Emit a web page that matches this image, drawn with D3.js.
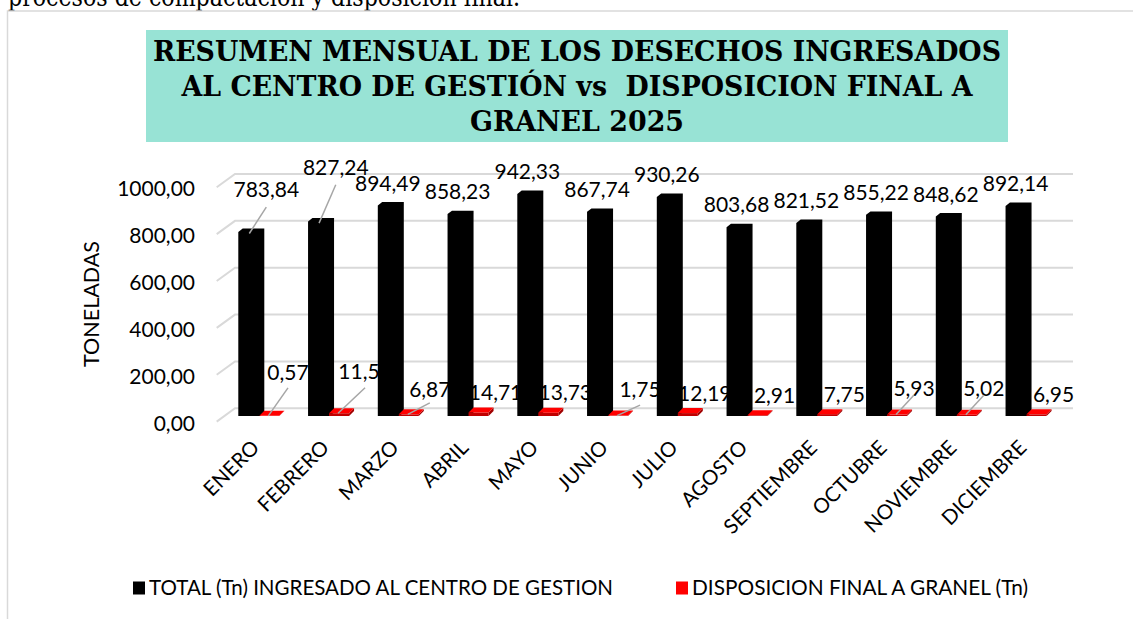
<!DOCTYPE html>
<html>
<head>
<meta charset="utf-8">
<script src="https://cdn.jsdelivr.net/npm/d3@7"></script>
<style>
  body { margin: 0; background: #fff; }
  svg { display: block; }
  text { font-family: Lato, "Open Sans", sans-serif; fill: #000; }
</style>
</head>
<body>
<div id="chart"></div>
<script>
// data
const months = ["ENERO", "FEBRERO", "MARZO", "ABRIL", "MAYO", "JUNIO", "JULIO",
  "AGOSTO", "SEPTIEMBRE", "OCTUBRE", "NOVIEMBRE", "DICIEMBRE"];
const totalIngresado = [783.84, 827.24, 894.49, 858.23, 942.33, 867.74, 930.26,
  803.68, 821.52, 855.22, 848.62, 892.14];
const disposicionGranel = [0.57, 11.5, 6.87, 14.71, 13.73, 1.75, 12.19,
  2.91, 7.75, 5.93, 5.02, 6.95];
const yTicks = [0, 200, 400, 600, 800, 1000];
const seriesNames = ["TOTAL (Tn) INGRESADO AL CENTRO DE GESTION", "DISPOSICION FINAL A GRANEL (Tn)"];
const titleLines = ["RESUMEN MENSUAL DE LOS DESECHOS INGRESADOS",
  "AL CENTRO DE GESTIÓN vs  DISPOSICION FINAL A", "GRANEL 2025"];
const yTitle = "TONELADAS";
const pageText = "procesos de compactación y disposición final.";

// labels that were dragged by hand in the original: [dx, dy, leader start dy]
const totalNudge = { 0: [18, -20, 17.7], 1: [17.7, -31.8, 17.5] };
const granelNudge = { 0: [1.7, -23, 15], 1: [9, -22, 16.5], 2: [4, -5, 13.5],
  5: [5, -6, 15.5], 9: [0, -6, 6.5], 10: [0, -6, 6.5] };

const W = 1133, H = 619;
const BASE = 416;                 // floor of the bars
const GRID = "#d9d9d9", LEADER = "#a6a6a6";

const locale = d3.formatLocale({ decimal: ",", thousands: ".", grouping: [3], currency: ["", ""] });
const fmt = locale.format(".2f");

const svg = d3.select("#chart").append("svg")
  .attr("width", W).attr("height", H);

// page frame + cut-off text above it
svg.append("text")
  .attr("x", 8).attr("y", 6)
  .attr("textLength", 512).attr("lengthAdjust", "spacingAndGlyphs")
  .style("font-family", "'DejaVu Serif', serif").style("font-size", "26px")
  .text(pageText);
svg.append("path")
  .attr("d", `M${W},11H7.5V${H}`)
  .attr("fill", "none").attr("stroke", GRID).attr("stroke-width", 1.5);

// title box
svg.append("rect")
  .attr("x", 146).attr("y", 30).attr("width", 862).attr("height", 112)
  .attr("fill", "#98e3d5");
const titleWidths = [848, 791, 214];
svg.append("g").selectAll("text")
  .data(titleLines)
  .join("text")
  .attr("x", 577)
  .attr("y", (d, i) => 61 + i * 35)
  .attr("text-anchor", "middle")
  .attr("textLength", (d, i) => titleWidths[i])
  .attr("lengthAdjust", "spacingAndGlyphs")
  .style("font-family", "'DejaVu Serif Condensed', 'DejaVu Serif', serif")
  .style("font-weight", "bold")
  .style("font-size", "28px")
  .style("white-space", "pre")
  .text(d => d);

// scales
const x = d3.scaleBand().domain(months).range([236.5, 1073.5]);
const y = d3.scaleLinear().domain([0, 1000]).range([BASE, 176.8]);       // bar plane
const yBack = d3.scaleLinear().domain([0, 1000]).range([408.3, 174]);    // back wall
const yLabel = d3.scaleLinear().domain([0, 1000]).range([423.3, 189]);   // tick labels

// gridlines on the back wall with the floor/side diagonal
svg.append("g").selectAll("path")
  .data(yTicks)
  .join("path")
  .attr("d", t => `M216.7,${yBack(t) + 13.3}L235,${yBack(t)}H1073`)
  .attr("fill", "none").attr("stroke", GRID).attr("stroke-width", 2);

// y axis labels
const yAxis = svg.append("g")
  .attr("transform", "translate(195,0)")
  .call(d3.axisLeft(yLabel).tickValues(yTicks).tickFormat(fmt).tickSize(0).tickPadding(0));
yAxis.select(".domain").remove();
yAxis.selectAll("text").style("font-family", "Lato, sans-serif").style("font-size", "21px").attr("fill", "#000");

svg.append("text")
  .attr("transform", "translate(99,304) rotate(-90)")
  .attr("text-anchor", "middle")
  .style("font-size", "21.5px")
  .text(yTitle);

// x labels
svg.append("g").selectAll("text")
  .data(months)
  .join("text")
  .attr("transform", d => `translate(${x(d) + 24},449) rotate(-45)`)
  .attr("text-anchor", "end")
  .style("font-size", "20.5px")
  .text(d => d);

const bx = i => x(months[i]) + 1.8;      // black front-left
const rx = i => x(months[i]) + 22.8;     // red front-left

// red labels (sit under the black columns, as in the original)
const granelPos = disposicionGranel.map((v, i) => {
  const n = granelNudge[i] || [0, 0, 0];
  return { v, i, cx: rx(i) + 27 + n[0], cy: y(v) - 20 + n[1], lead: granelNudge[i] ? n[2] : null };
});
svg.append("g").selectAll("text")
  .data(granelPos)
  .join("text")
  .attr("x", d => d.cx).attr("y", d => d.cy).attr("dy", "0.36em")
  .attr("text-anchor", "middle")
  .style("font-size", "21px")
  .text(d => fmt(d.v));

// black columns (front + top + side as one silhouette)
svg.append("g").selectAll("path")
  .data(totalIngresado)
  .join("path")
  .attr("d", (v, i) => {
    const x0 = bx(i), t = y(v);
    return `M${x0},${BASE}V${t + 3.4}L${x0 + 4.4},${t}H${x0 + 26}V${BASE - 3.4}L${x0 + 21.6},${BASE}Z`;
  })
  .attr("fill", "#000");

// red slabs
const red = svg.append("g").selectAll("g")
  .data(disposicionGranel)
  .join("g");
red.append("path")
  .attr("d", (v, i) => { const x0 = rx(i), t = y(v);
    return `M${x0 + 20},${t}L${x0 + 25},${t - 5}V${BASE - 5}L${x0 + 20},${BASE}Z`; })
  .attr("fill", "#a00000");
red.append("rect")
  .attr("x", (v, i) => rx(i)).attr("y", v => y(v))
  .attr("width", 20).attr("height", v => BASE - y(v))
  .attr("fill", "#c00000");
red.append("path")
  .attr("d", (v, i) => { const x0 = rx(i), t = y(v);
    return `M${x0},${t}H${x0 + 20}L${x0 + 25},${t - 5}H${x0 + 5}Z`; })
  .attr("fill", "#ff0000");

// red leader lines
svg.append("g").selectAll("line")
  .data(granelPos.filter(d => d.lead !== null))
  .join("line")
  .attr("x1", d => d.cx).attr("y1", d => d.cy + d.lead)
  .attr("x2", d => rx(d.i) + 9).attr("y2", d => y(d.v))
  .attr("stroke", LEADER).attr("stroke-width", 1.5);

// black labels + leaders
const totalPos = totalIngresado.map((v, i) => {
  const n = totalNudge[i] || [0, 0, 0];
  return { v, i, cx: bx(i) + 10 + n[0], cy: y(v) - 19 + n[1], lead: totalNudge[i] ? n[2] : null };
});
svg.append("g").selectAll("line")
  .data(totalPos.filter(d => d.lead !== null))
  .join("line")
  .attr("x1", d => d.cx).attr("y1", d => d.cy + d.lead)
  .attr("x2", d => bx(d.i) + 11).attr("y2", d => y(d.v) + 5)
  .attr("stroke", LEADER).attr("stroke-width", 1.5);
svg.append("g").selectAll("text")
  .data(totalPos)
  .join("text")
  .attr("x", d => d.cx).attr("y", d => d.cy).attr("dy", "0.36em")
  .attr("text-anchor", "middle")
  .style("font-size", "21px")
  .text(d => fmt(d.v));

// legend
const legendX = [133, 676];
const legendWidths = [464, 336];
const legendColor = ["#000", "#ff0000"];
const lg = svg.append("g").selectAll("g")
  .data(seriesNames)
  .join("g")
  .attr("transform", (d, i) => `translate(${legendX[i]},588)`);
lg.append("rect").attr("x", 0).attr("y", -6.5).attr("width", 12).attr("height", 13)
  .attr("fill", (d, i) => legendColor[i]);
lg.append("text").attr("x", 16).attr("dy", "0.36em")
  .attr("textLength", (d, i) => legendWidths[i])
  .attr("lengthAdjust", "spacingAndGlyphs")
  .style("font-size", "20.5px")
  .text(d => d);
</script>
</body>
</html>
